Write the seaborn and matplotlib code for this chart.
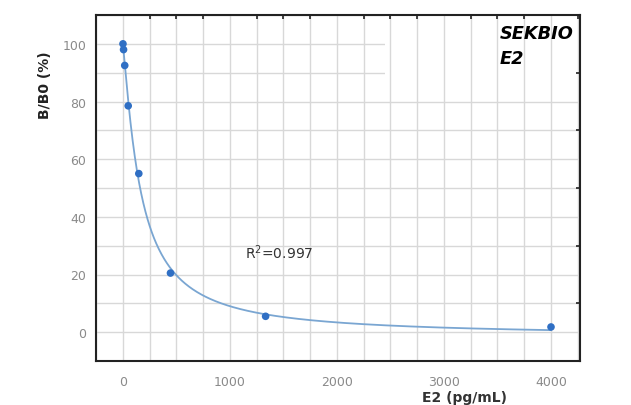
import numpy as np
import matplotlib
matplotlib.use("Agg")
import matplotlib.pyplot as plt
import seaborn as sns
import pandas as pd
from matplotlib.patches import Rectangle
from matplotlib.ticker import MultipleLocator

# Data
conc = [0, 5.5, 16.5, 49, 148, 444, 1333, 4000]
bb0 = [100.0, 98.0, 92.5, 78.5, 55.0, 20.5, 5.5, 1.8]
x_ticks = [0, 1000, 2000, 3000, 4000]
y_ticks = [0, 20, 40, 60, 80, 100]
r2_text = "R$^2$=0.997"
brand_text = "SEKBIO\nE2"

df = pd.DataFrame({"E2": conc, "BB0": bb0})

# 4PL fit: grid search over slope & IC50, linear least squares for top/bottom
xs = np.array(conc, float)
ys = np.array(bb0, float)
best = None
for B in np.linspace(0.8, 2.0, 121):
    for C in np.linspace(80, 300, 221):
        g = 1.0 / (1.0 + (xs / C) ** B)
        M = np.column_stack([g, 1 - g])
        coef, *_ = np.linalg.lstsq(M, ys, rcond=None)
        res = np.sum((M @ coef - ys) ** 2)
        if best is None or res < best[0]:
            best = (res, B, C, coef)
_, B, C, (A, D) = best
xf = np.linspace(0, 4000, 800)
gf = 1.0 / (1.0 + (xf / C) ** B)
fit = pd.DataFrame({"E2": xf, "BB0": A * gf + D * (1 - gf)})

sns.set_theme(style="white")
plt.rcParams["font.family"] = ["DejaVu Sans"]

fig = plt.figure(figsize=(6.31, 4.06), dpi=100)
ax = fig.add_axes([96 / 631, 1 - 362 / 406, (580 - 96) / 631, (362 - 16) / 406])
ax.set_xlim(-252, 4271)
ax.set_ylim(-10, 110)

grid_c = "#d8d8d8"
for xv in np.arange(-250, 4271, 250):
    ax.axvline(xv, color=grid_c, lw=1.0, zorder=0.5)
for yv in np.arange(-10, 111, 10):
    ax.axhline(yv, color=grid_c, lw=1.0, zorder=0.3)
ax.add_patch(Rectangle((2450, 86), 4271 - 2450, 30, facecolor="white",
                       edgecolor="none", zorder=0.4))

sns.lineplot(data=fit, x="E2", y="BB0", ax=ax, color="#7aa6d2", lw=1.3, zorder=2)
sns.scatterplot(data=df, x="E2", y="BB0", ax=ax, color="#2f6fc4", s=30,
                edgecolor="none", zorder=3)

ax.set_xticks(x_ticks)
ax.set_yticks(y_ticks)
ax.xaxis.set_minor_locator(MultipleLocator(250))
ax.yaxis.set_minor_locator(MultipleLocator(10))
ax.tick_params(axis="both", which="major", direction="out", length=4, width=1.2,
               colors="#222222", labelcolor="#8a8a8a", labelsize=9)
ax.tick_params(axis="both", which="minor", direction="in", length=3, width=1.2,
               colors="#222222", top=True, right=True)
ax.tick_params(axis="x", which="major", pad=6)
ax.tick_params(axis="y", which="major", pad=3)

for s in ax.spines.values():
    s.set_color("#222222")
    s.set_linewidth(1.5)

ax.set_xlabel("E2 (pg/mL)", fontsize=10, color="#333333", fontweight="semibold")
ax.xaxis.set_label_coords((465 - 96) / 484, -0.085)
ax.set_ylabel("B/B0 (%)", fontsize=10, color="#222222", fontweight="bold")
ax.yaxis.set_label_coords(-0.09, 0.8)

ax.text(1140, 28, r2_text, fontsize=10, color="#333333", ha="left", va="center",
        zorder=4)
ax.text(3520, 106.8, brand_text, fontsize=12.8, fontweight="bold", style="italic",
        family=["DejaVu Sans"], color="black", ha="left", va="top",
        linespacing=1.45, zorder=4)

fig.savefig("out.png", dpi=100)
